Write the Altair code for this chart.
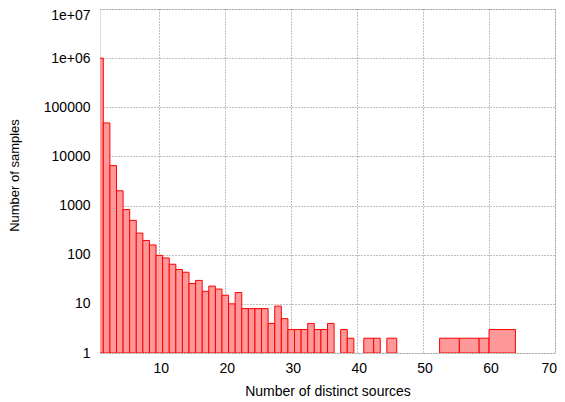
import altair as alt
import pandas as pd

# Distinct-source counts (integer bins) and number of samples
sources = list(range(1, 37)) + [38, 39]
samples = [1000000, 48000, 6500, 2000, 830, 500, 275, 195, 158, 97,
           86, 64, 50, 44, 26, 30, 18, 23, 20, 15,
           10, 17, 8, 8, 8, 8, 4, 9, 5, 3,
           3, 3, 4, 3, 3, 4, 3, 2]

# Sparse tail: boxes of variable width (bin edges in x units)
tail_lo = [41, 42.5, 44.5, 52.5, 55.5, 58.5, 60]
tail_hi = [42.5, 43.5, 46, 55.5, 58.5, 60, 64]
tail_samples = [2, 2, 2, 2, 2, 2, 3]

x_ticks = [10, 20, 30, 40, 50, 60, 70]
y_ticks = [1, 10, 100, 1000, 10000, 100000, 1000000, 10000000]
y_tick_labels = ["1", "10", "100", "1000", "10000", "100000", "1e+06", "1e+07"]

rows = []
for s, n in zip(sources, samples):
    rows.append({"lo": s - 0.5, "hi": s + 0.5, "samples": n, "base": 1})
for lo, hi, n in zip(tail_lo, tail_hi, tail_samples):
    rows.append({"lo": lo, "hi": hi, "samples": n, "base": 1})
df = pd.DataFrame(rows)

label_expr = "datum.label"
for v, t in zip(y_ticks, y_tick_labels):
    label_expr = f"datum.value == {v} ? '{t}' : ({label_expr})"

FONT = "Liberation Sans"

chart = alt.Chart(df).mark_rect(
    fill="#ff9999", stroke="#ff0000", strokeWidth=1, clip=True
).encode(
    x=alt.X("lo:Q",
            scale=alt.Scale(domain=[1, 70], nice=False, zero=False),
            axis=alt.Axis(values=x_ticks, grid=True, gridDash=[1, 2],
                          gridColor="#808080", ticks=False, tickSize=0,
                          domain=False, labelPadding=8, labelOffset=1.5,
                          labelFont=FONT, labelFontSize=14, labelColor="black",
                          title="Number of distinct sources",
                          titleFont=FONT, titleFontSize=14, titleFontWeight="normal",
                          titleColor="black", titleBaseline="alphabetic",
                          titleY=42)),
    x2="hi:Q",
    y=alt.Y("samples:Q",
            scale=alt.Scale(type="log", domain=[1, 10000000], nice=False),
            axis=alt.Axis(values=y_ticks, grid=True, gridDash=[1, 2],
                          gridColor="#808080", ticks=False, tickSize=0,
                          domain=False, labelPadding=10, format="d",
                          labelExpr=label_expr,
                          labelOffset={"condition": {"test": "datum.value == 10000000",
                                                     "value": 6},
                                       "value": 0},
                          labelFont=FONT, labelFontSize=14, labelColor="black",
                          title="Number of samples",
                          titleFont=FONT, titleFontSize=13, titleFontWeight="normal",
                          titleColor="black", titleAngle=270,
                          titleBaseline="alphabetic", titleAlign="center",
                          titleX=-82, titleY=166)),
    y2="base:Q",
).properties(
    width=455, height=344,
    autosize=alt.AutoSizeParams(type="none"),
    padding={"left": 92, "top": 1, "right": 2, "bottom": 46},
).configure_view(
    stroke="black", strokeWidth=1
).configure(background="white")

chart.save("out.html", embed_options={"renderer": "svg", "actions": False})
